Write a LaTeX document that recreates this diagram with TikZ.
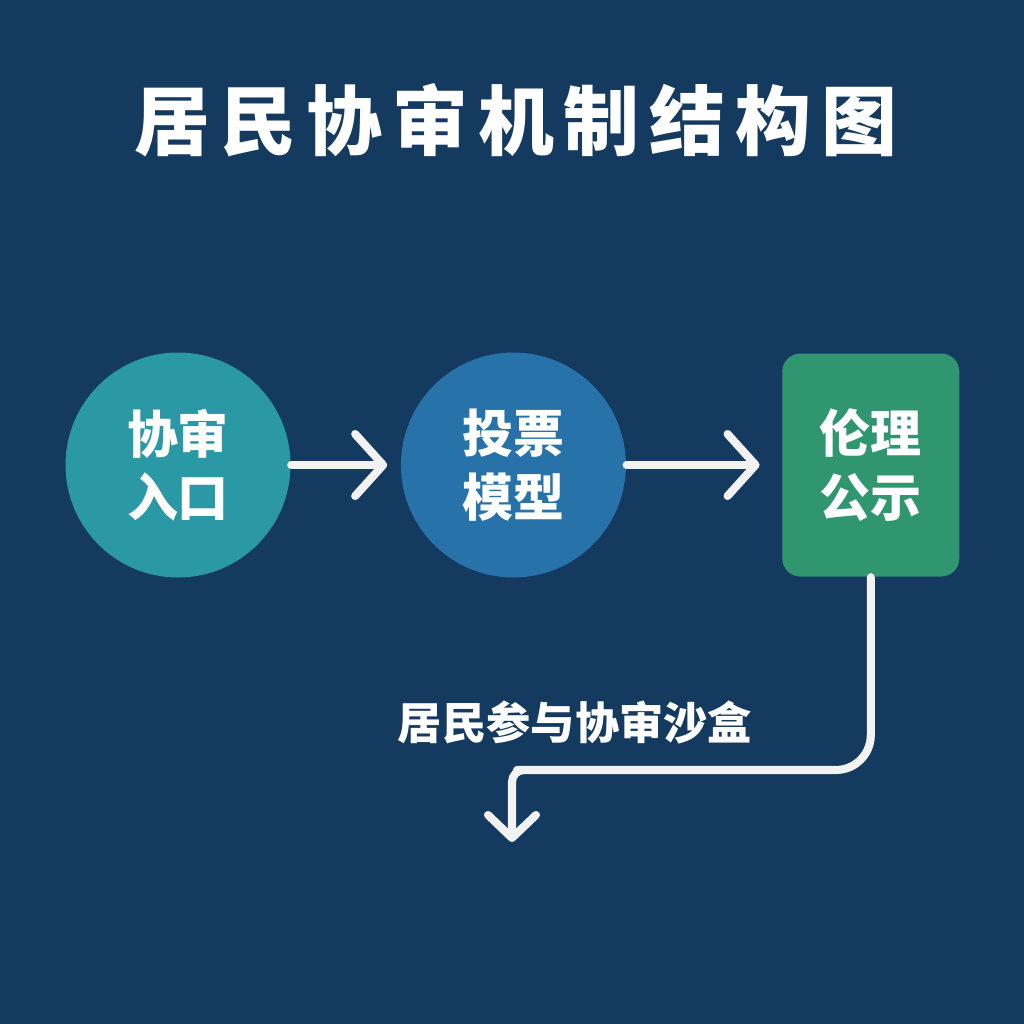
\documentclass[tikz,border=0pt]{standalone}
\usepackage{fontspec}
\newfontfamily\cjk{Noto Sans CJK SC}
\newfontfamily\cjktitle[LetterSpace=13]{Noto Sans CJK SC}
\usetikzlibrary{arrows.meta,positioning}
\definecolor{navy}{HTML}{143A5F}
\definecolor{tealc}{HTML}{2B98A6}
\definecolor{bluec}{HTML}{2772A9}
\definecolor{greenc}{HTML}{30966F}
\definecolor{flowc}{HTML}{F2F2F2}

\begin{document}
\begin{tikzpicture}[node distance=1.09cm and 1.09cm,
  >={Straight Barb[length=2.8mm,width=6.2mm,round]},
  stage/.style={circle, minimum size=2.25cm, inner sep=0pt, align=center, text=white,
                font=\cjk\bfseries\fontsize{14.5}{18}\selectfont},
  gate/.style={rectangle, rounded corners=1.8mm, minimum width=1.77cm, minimum height=2.23cm,
               inner sep=0pt, align=center, text=white, font=\cjk\bfseries\fontsize{14.5}{18}\selectfont},
  flow/.style={draw=flowc, line width=2.3pt, line cap=round, line join=round}]
  \fill[navy] (0,0) rectangle (10.24,-10.24);
  \useasboundingbox (0,0) rectangle (10.24,-10.24);
  \node[text=white, font=\cjktitle\bfseries\fontsize{21.6}{26}\selectfont] (title) at (5.16,-1.20) {居民协审机制结构图};
  \node[stage, fill=tealc] (entry) at (1.78,-4.65) {协审\\入口};
  \node[stage, fill=bluec, right=of entry] (vote) {投票\\模型};
  \node[gate, fill=greenc, right=1.55cm of vote] (ethic) {伦理\\公示};
  \coordinate (mid) at (5.52,-7.70);
  \coordinate (drop) at (5.12,-8.42);
  \draw[flow, ->, shorten >=1.3mm] (entry) -- (vote);
  \draw[flow, ->, shorten >=2.2mm] (vote) -- (ethic);
  \draw[flow, -{Straight Barb[length=2.3mm,width=4.8mm,round]}] (ethic.south) [rounded corners=3.5mm] |- (mid)
    [rounded corners=1.2mm] -| (drop);
  \node[text=white, font=\cjk\bfseries\fontsize{12.6}{15}\selectfont] (sandbox) at (5.75,-7.22) {居民参与协审沙盒};
\end{tikzpicture}
\end{document}
